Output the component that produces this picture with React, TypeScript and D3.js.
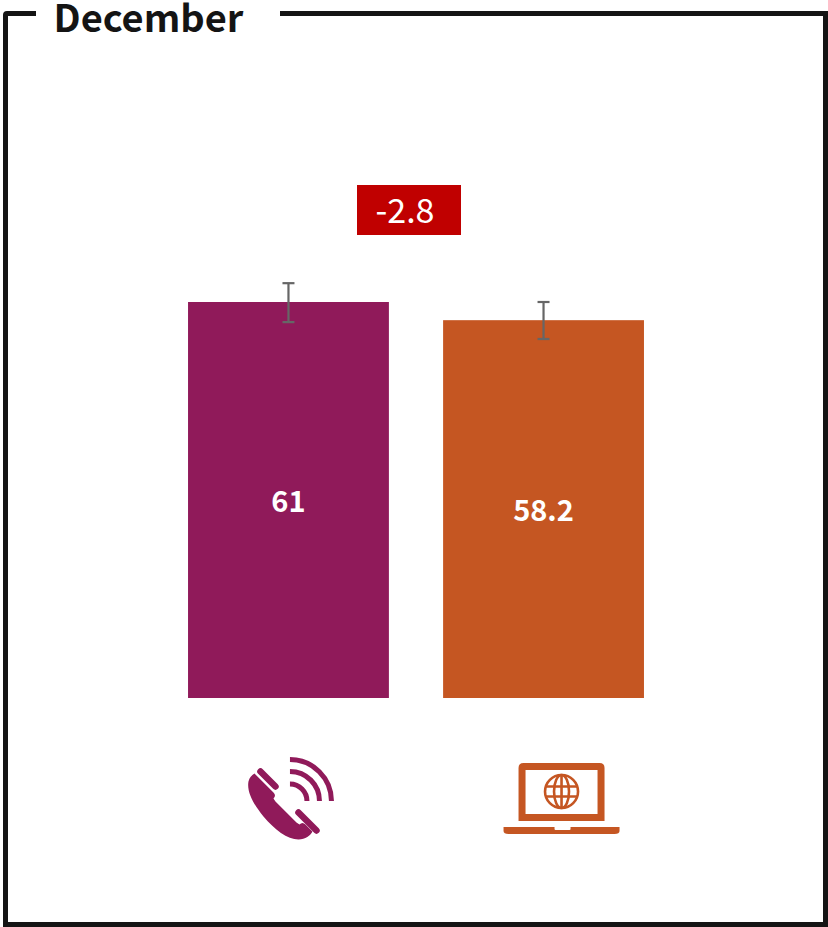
import React from "react";
import * as d3 from "d3";

const title = "December";
const channels = ["phone", "web"];
const values = [61, 58.2];
const errLow = [57.9, 55.3];
const errHigh = [63.9, 61.0];
const colors = ["#901A5A", "#C55622"];
const diffLabel = "-2.8";

const FONT = "'Noto Sans CJK SC','Noto Sans',sans-serif";
const BASE = 698;

function PhoneIcon({ color }: { color: string }) {
  return (
    <g>
      {/* handset */}
      <path
        d="M-36 -25 L-17 -6 C-15 -4 -15 -2 -17 0 L-15 3 L6 24 L9 26 C11 24 13 24 15 26 L22 33 C20 37 15 41 8 41 C-3 41 -16 31 -27 18 C-36 7 -44 -6 -42 -17 C-41 -21 -39 -23 -36 -25 Z"
        fill={color}
        transform="translate(0,-1)"
      />
      <path d="M-30 -28 L-15 -13" stroke={color} strokeWidth={6.5} strokeLinecap="round" fill="none" />
      <path d="M8 15 L26 33" stroke={color} strokeWidth={6.5} strokeLinecap="round" fill="none" transform="translate(0,-2)" />
      {/* waves */}
      <g fill="none" stroke={color} strokeWidth={5} transform="translate(-0.5,1.5)">
        <path d="M0 -17 A17 17 0 0 1 17 0" />
        <path d="M0 -29.5 A29.5 29.5 0 0 1 29.5 0" />
        <path d="M0 -41.5 A41.5 41.5 0 0 1 41.5 0" />
      </g>
    </g>
  );
}

function LaptopIcon({ color }: { color: string }) {
  return (
    <g>
      <path
        fillRule="evenodd"
        fill={color}
        d="M-38 -37 H38 Q43 -37 43 -32 V21 H-43 V-32 Q-43 -37 -38 -37 Z M-36 -30 V14 H36 V-30 Z"
      />
      <path
        fill={color}
        d="M-58 27 H-7 V29 Q-7 30 -6 30 H8 Q9 30 9 29 V27 H58 V31 Q58 34 53 34 H-53 Q-58 34 -58 31 Z"
      />
      <g fill="none" stroke={color} strokeWidth={2.6}>
        <circle cx={0} cy={-8.5} r={16.5} />
        <ellipse cx={0} cy={-8.5} rx={7.5} ry={16.5} />
        <path d="M0 -25 V8 M-15.5 -13.5 H15.5 M-15.5 -3.5 H15.5" />
      </g>
    </g>
  );
}

export default function App() {
  const y = d3.scaleLinear().domain([0, 61]).range([BASE, 302]);
  const x = d3.scaleBand().domain(channels).range([161, 671]).paddingInner(0.2125).paddingOuter(0.106);
  const bw = x.bandwidth();
  const icons = [PhoneIcon, LaptopIcon];
  const iconX = [2, 18];
  const iconY = [799.5, 800];
  return (
    <svg
      width={828}
      height={927}
      viewBox="0 0 828 927"
      style={{ position: "absolute", left: 0, top: 0, display: "block", background: "#fff" }}
    >
      <path
        d="M36 13.5 H7 Q5.5 13.5 5.5 15 V924.5 H825.5 V13.5 H280"
        fill="none"
        stroke="#141414"
        strokeWidth={5}
      />
      <text x={53.5} y={32} fontFamily={FONT} fontWeight={700} fontSize={38} fill="#141414">
        {title}
      </text>
      {channels.map((c, i) => {
        const cx = x(c)! + bw / 2;
        const Icon = icons[i];
        return (
          <g key={c}>
            <rect x={x(c)!} y={y(values[i])} width={bw} height={BASE - y(values[i])} fill={colors[i]} />
            <g stroke="#666" strokeWidth={2.2} fill="none">
              <path d={`M${cx} ${y(errLow[i])} V${y(errHigh[i])}`} />
              <path d={`M${cx - 6} ${y(errLow[i])} H${cx + 6}`} />
              <path d={`M${cx - 6} ${y(errHigh[i])} H${cx + 6}`} />
            </g>
            <text
              x={cx}
              y={(y(values[i]) + BASE) / 2 + 12}
              textAnchor="middle"
              fontFamily={FONT}
              fontWeight={700}
              fontSize={29}
              fill="#fff"
            >
              {values[i]}
            </text>
            <g transform={`translate(${cx + iconX[i]},${iconY[i]})`}>
              <Icon color={colors[i]} />
            </g>
          </g>
        );
      })}
      <rect x={357} y={185} width={104} height={50} fill="#C00000" />
      <text x={405} y={223} textAnchor="middle" fontFamily={FONT} fontSize={34} fill="#fff">
        {diffLabel}
      </text>
    </svg>
  );
}
